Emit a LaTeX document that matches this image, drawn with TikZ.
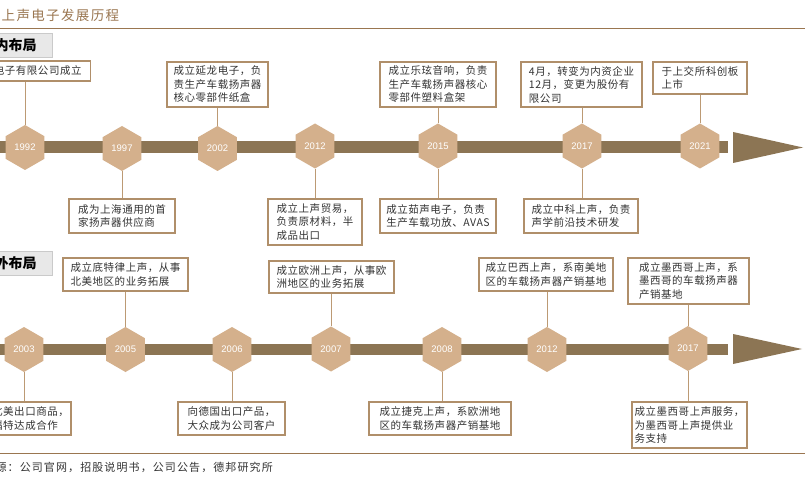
\documentclass[tikz,border=0pt]{standalone}
\usepackage{fontspec}
\setmainfont{Liberation Sans}
\newfontfamily\cjkfont{Noto Sans CJK SC}[LetterSpace=10]
\newfontfamily\cjkbox{Noto Sans CJK SC}[LetterSpace=5]
\newfontfamily\cjkhdr{Noto Sans CJK SC}
\newfontfamily\yearfont{Liberation Sans}
\usetikzlibrary{shapes.geometric}
\definecolor{barbrown}{HTML}{8C7554}
\definecolor{hexfill}{HTML}{D4B08C}
\definecolor{boxline}{HTML}{B08F6A}
\definecolor{conline}{HTML}{BC9A74}
\definecolor{titlec}{HTML}{9A7650}
\definecolor{hdrfill}{HTML}{E8E8E8}
\definecolor{hdrline}{HTML}{CACACA}
\definecolor{txt}{HTML}{333333}
\tikzset{
  hexnode/.style={regular polygon, regular polygon sides=6, shape border rotate=30,
    minimum size=45pt, inner sep=0pt, fill=hexfill, text=white,
    font=\yearfont\fontsize{9.5}{9.5}\selectfont},
  evbox/.style={draw=boxline, line width=1.1pt, fill=white, text=txt, align=left,
    inner sep=0pt, font=\cjkbox\fontsize{10.5}{13.5}\selectfont},
  conn/.style={draw=conline, line width=1pt},
  hdrbox/.style={draw=hdrline, fill=hdrfill, line width=0.8pt, anchor=east,
    minimum height=24pt, inner ysep=0pt, inner xsep=15.7pt, text=black,
    font=\cjkhdr\bfseries\fontsize{14}{14}\selectfont},
  barfill/.style={fill=barbrown}
}
\begin{document}
\begin{tikzpicture}[x=1pt,y=-1pt]
\useasboundingbox (0,0) rectangle (805,481);
\clip (0,0) rectangle (805,481);
\fill[white] (0,0) rectangle (805,481);

% title
\node[anchor=west, text=titlec, inner sep=0pt, font=\cjkfont\fontsize{13.5}{13.5}\selectfont] (title) at (1.5,15) {上声电子发展历程};
\draw[titlec, line width=1.4pt] (-5,28.3) -- (810,28.3);

% section headers
\node[hdrbox] (hdr1) at (52.7,45) {国内布局};
\node[hdrbox] (hdr2) at (52.7,263.5) {海外布局};

% bars
\fill[barfill] (-5,141) rectangle (728,153);
\fill[barfill] (733,132) -- (803,147.5) -- (733,163) -- cycle;
\fill[barfill] (-5,343.5) rectangle (728,354.5);
\fill[barfill] (733,334) -- (802,349) -- (733,364) -- cycle;

% row 1 hexagons
\node[hexnode] (h1992) at (25,147.5) {1992};
\node[hexnode] (h1997) at (122,148.5) {1997};
\node[hexnode] (h2002) at (217.5,148.5) {2002};
\node[hexnode] (h2012) at (315,146) {2012};
\node[hexnode] (h2015) at (438,146) {2015};
\node[hexnode] (h2017) at (582,146) {2017};
\node[hexnode] (h2021) at (700,146) {2021};

% row 1 boxes
\node[evbox, minimum width=128pt, minimum height=20pt] (b1992) at (26.7,71) {上声电子有限公司成立};
\node[evbox, minimum width=101pt, minimum height=45pt] (b2002) at (217.5,84.5) {成立延龙电子，负\\责生产车载扬声器\\核心零部件纸盒};
\node[evbox, minimum width=116pt, minimum height=45pt] (b2015t) at (438,84.5) {成立乐玹音响，负责\\生产车载扬声器核心\\零部件塑料盒架};
\node[evbox, minimum width=121pt, minimum height=45pt] (b2017t) at (581.5,84.5) {4月，转变为内资企业\\12月，变更为股份有\\限公司};
\node[evbox, minimum width=94pt, minimum height=32pt] (b2021) at (700,78) {于上交所科创板\\上市\phantom{交所科创板}};
\node[evbox, minimum width=106pt, minimum height=34pt] (b1997) at (122,216) {成为上海通用的首\\家扬声器供应商};
\node[evbox, minimum width=94pt, minimum height=46pt] (b2012) at (315,222) {成立上声贸易，\\负责原材料，半\\成品出口};
\node[evbox, minimum width=116pt, minimum height=34pt] (b2015b) at (438,216) {成立茹声电子，负责\\生产车载功放、AVAS};
\node[evbox, minimum width=114pt, minimum height=34pt] (b2017b) at (581,216) {成立中科上声，负责\\声学前沿技术研发};

% row 1 connectors
\draw[conn] (h1992.north) -- (h1992.north |- b1992.south);
\draw[conn] (h2002.north) -- (h2002.north |- b2002.south);
\draw[conn] (h2015.north) -- (h2015.north |- b2015t.south);
\draw[conn] (h2017.north) -- (h2017.north |- b2017t.south);
\draw[conn] (h2021.north) -- (h2021.north |- b2021.south);
\draw[conn] (h1997.south) -- (h1997.south |- b1997.north);
\draw[conn] (h2012.south) -- (h2012.south |- b2012.north);
\draw[conn] (h2015.south) -- (h2015.south |- b2015b.north);
\draw[conn] (h2017.south) -- (h2017.south |- b2017b.north);

% row 2 hexagons
\node[hexnode] (g2003) at (24,349.5) {2003};
\node[hexnode] (g2005) at (125.5,349.5) {2005};
\node[hexnode] (g2006) at (232,349.5) {2006};
\node[hexnode] (g2007) at (331,349) {2007};
\node[hexnode] (g2008) at (442,349.5) {2008};
\node[hexnode] (g2012) at (547,349.5) {2012};
\node[hexnode] (g2017) at (688,348.5) {2017};

% row 2 boxes
\node[evbox, minimum width=125pt, minimum height=33pt] (c2005) at (125.5,274.5) {成立底特律上声，从事\\北美地区的业务拓展};
\node[evbox, minimum width=125pt, minimum height=32pt] (c2007) at (331.5,277) {成立欧洲上声，从事欧\\洲地区的业务拓展};
\node[evbox, minimum width=134pt, minimum height=33pt] (c2012) at (546,274.5) {成立巴西上声，系南美地\\区的车载扬声器产销基地};
\node[evbox, minimum width=121pt, minimum height=46pt] (c2017t) at (688.5,281) {成立墨西哥上声，系\\墨西哥的车载扬声器\\产销基地};
\node[evbox, minimum width=92pt, minimum height=33pt] (c2003) at (25,418.5) {向北美出口商品，\\与福特达成合作};
\node[evbox, minimum width=107pt, minimum height=33pt] (c2006) at (231.5,418.5) {向德国出口产品，\\大众成为公司客户};
\node[evbox, minimum width=142pt, minimum height=33pt] (c2008) at (440,418.5) {成立捷克上声，系欧洲地\\区的车载扬声器产销基地};
\node[evbox, minimum width=115pt, minimum height=46pt] (c2017b) at (689.5,425) {成立墨西哥上声服务，\\为墨西哥上声提供业\\务支持};

% row 2 connectors
\draw[conn] (g2005.north) -- (g2005.north |- c2005.south);
\draw[conn] (g2007.north) -- (g2007.north |- c2007.south);
\draw[conn] (g2012.north) -- (g2012.north |- c2012.south);
\draw[conn] (g2017.north) -- (g2017.north |- c2017t.south);
\draw[conn] (g2003.south) -- (g2003.south |- c2003.north);
\draw[conn] (g2006.south) -- (g2006.south |- c2006.north);
\draw[conn] (g2008.south) -- (g2008.south |- c2008.north);
\draw[conn] (g2017.south) -- (g2017.south |- c2017b.north);

% footer
\draw[titlec, line width=1pt] (-5,453) -- (810,453);
\node[anchor=east, text=txt, inner sep=0pt, font=\cjkfont\fontsize{11}{11}\selectfont] (src) at (273,467) {资料来源：公司官网，招股说明书，公司公告，德邦研究所};
\end{tikzpicture}
\end{document}
